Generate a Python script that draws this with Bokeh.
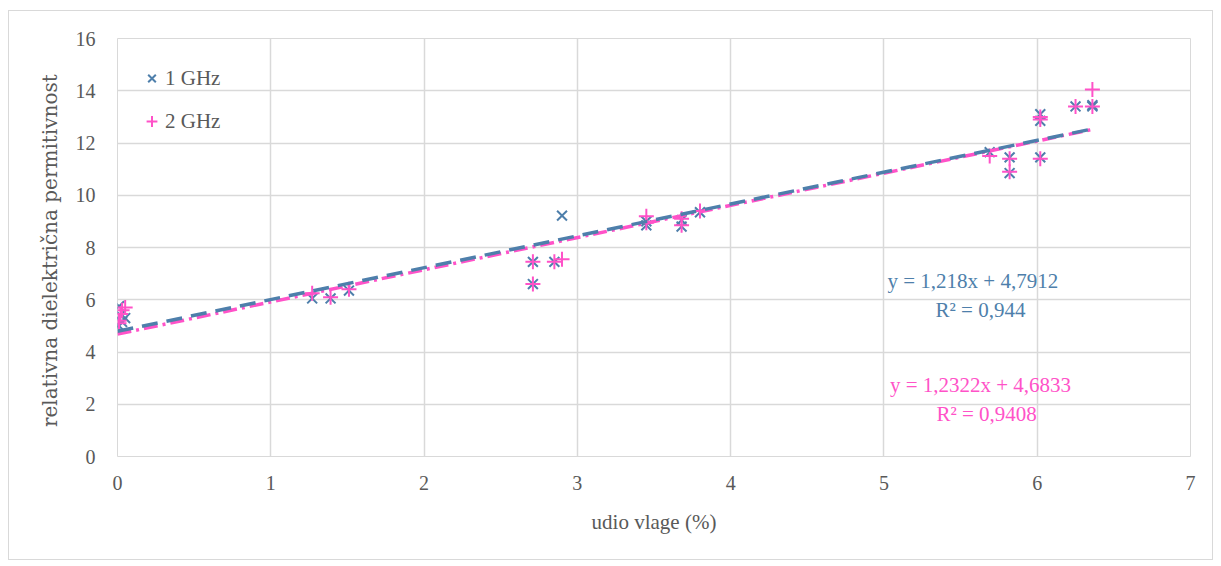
from bokeh.plotting import figure
from bokeh.models import Range1d, Label, Legend, LegendItem, FixedTicker
from bokeh.embed import file_html
from bokeh.resources import INLINE

# 1 GHz measurements
x_1ghz = [0.01, 0.02, 0.03, 0.05, 0.01, 1.27, 1.39, 1.51, 2.71, 2.71, 2.85, 2.90,
          3.45, 3.45, 3.68, 3.68, 3.80, 5.69, 5.82, 5.82, 6.02, 6.02, 6.02, 6.25, 6.36, 6.36]
y_1ghz = [5.75, 5.40, 5.15, 5.30, 5.00, 6.05, 6.05, 6.35, 7.45, 6.60, 7.45, 9.22,
          8.85, 9.00, 9.05, 8.80, 9.35, 11.65, 11.45, 10.85, 13.10, 12.85, 11.45, 13.40, 13.40, 13.45]
# 2 GHz measurements
x_2ghz = [0.03, 0.02, 0.01, 0.05, 0.01, 1.27, 1.39, 1.51, 2.71, 2.71, 2.85, 2.90,
          3.45, 3.45, 3.68, 3.68, 3.80, 5.69, 5.82, 5.82, 6.02, 6.02, 6.02, 6.25, 6.36, 6.36]
y_2ghz = [5.60, 5.45, 5.20, 5.70, 5.10, 6.25, 6.10, 6.40, 7.45, 6.60, 7.45, 7.55,
          9.20, 8.95, 9.10, 8.85, 9.40, 11.50, 11.40, 10.90, 13.00, 12.90, 11.40, 13.40, 13.40, 14.05]

# trend lines (from printed equations)
slope_1ghz, icpt_1ghz = 1.218, 4.7912
slope_2ghz, icpt_2ghz = 1.2322, 4.6833
trend_x = [0.0, 6.36]

x_ticks = [0, 1, 2, 3, 4, 5, 6, 7]
y_ticks = [0, 2, 4, 6, 8, 10, 12, 14, 16]

BLUE = "#4e7fab"
PINK = "#ff52c8"
GRID = "#d9d9d9"
TXT = "#595959"
FONT = "Liberation Serif"

p = figure(width=1205, height=550, output_backend="svg", toolbar_location=None,
           x_range=Range1d(0, 7), y_range=Range1d(0, 16),
           min_border_left=108, min_border_right=24, min_border_top=27, min_border_bottom=105)
p.styles = {"border": "1px solid #d9d9d9", "margin-left": "8px", "margin-top": "10px"}
p.outline_line_color = GRID
p.background_fill_color = "white"
p.border_fill_color = "white"

p.xaxis.ticker = FixedTicker(ticks=x_ticks)
p.yaxis.ticker = FixedTicker(ticks=y_ticks)
for ax in (p.xaxis[0], p.yaxis[0]):
    ax.axis_line_color = None
    ax.major_tick_line_color = None
    ax.minor_tick_line_color = None
    ax.major_label_text_font = FONT
    ax.major_label_text_font_size = "20px"
    ax.major_label_text_color = TXT
    ax.axis_label_text_color = TXT
    ax.axis_label_text_font_style = "normal"
p.xaxis.axis_label_text_font = FONT
p.xaxis.axis_label_text_font_size = "21px"
p.yaxis.axis_label_text_font = "DejaVu Serif"
p.yaxis.axis_label_text_font_size = "20px"
p.xaxis.major_label_standoff = 13
p.yaxis.major_label_standoff = 16
p.xaxis.axis_label = "udio vlage (%)"
p.yaxis.axis_label = "relativna dielektrična  permitivnost"
p.xaxis.axis_label_standoff = 17
p.yaxis.axis_label_standoff = 11

p.xgrid.grid_line_color = GRID
p.ygrid.grid_line_color = GRID
p.xgrid.grid_line_width = 1.5
p.ygrid.grid_line_width = 1.5

r1 = p.scatter(x_1ghz, y_1ghz, marker="x", size=14, line_color=BLUE, line_width=2)
r2 = p.scatter(x_2ghz, y_2ghz, marker="cross", size=15, line_color=PINK, line_width=2)

p.line(trend_x, [slope_2ghz * v + icpt_2ghz for v in trend_x], line_color=PINK,
       line_width=3.5, line_dash="14 5 3 5")
p.line(trend_x, [slope_1ghz * v + icpt_1ghz for v in trend_x], line_color=BLUE,
       line_width=3.5, line_dash="16 9")

legend = Legend(items=[LegendItem(label="1 GHz", renderers=[r1]),
                       LegendItem(label="2 GHz", renderers=[r2])],
                location=(21, 321), background_fill_alpha=0, border_line_color=None,
                label_text_font=FONT, label_text_font_size="21px", label_text_color=TXT,
                glyph_width=27, glyph_height=28, label_height=28, label_standoff=0,
                spacing=15, padding=8)
p.add_layout(legend)

eq_style = dict(text_font=FONT, text_font_size="21px", text_align="center",
                text_baseline="middle")
p.add_layout(Label(x=5.58, y=6.73, text="y = 1,218x + 4,7912", text_color=BLUE, **eq_style))
p.add_layout(Label(x=5.63, y=5.62, text="R² = 0,944", text_color=BLUE, **eq_style))
p.add_layout(Label(x=5.63, y=2.72, text="y = 1,2322x + 4,6833", text_color=PINK, **eq_style))
p.add_layout(Label(x=5.67, y=1.64, text="R² = 0,9408", text_color=PINK, **eq_style))

open("out.html", "w").write(file_html(p, INLINE))
